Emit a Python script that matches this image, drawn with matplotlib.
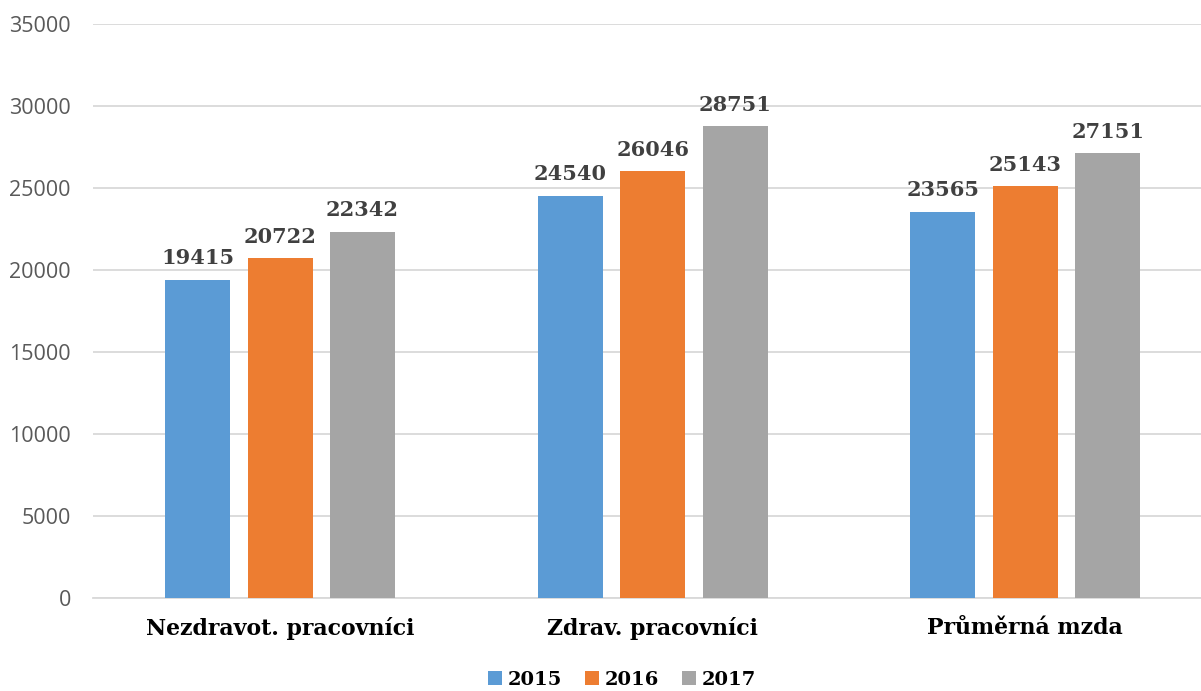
import matplotlib
matplotlib.use("Agg")
import matplotlib.pyplot as plt
import numpy as np

categories = ["Nezdravot. pracovníci", "Zdrav. pracovníci", "Průměrná mzda"]
years = ["2015", "2016", "2017"]
v2015 = [19415, 24540, 23565]
v2016 = [20722, 26046, 25143]
v2017 = [22342, 28751, 27151]
colors = ["#5B9BD5", "#ED7D31", "#A5A5A5"]

fig = plt.figure(figsize=(12.01, 6.91), dpi=100)
W, H = 1201, 691
ax = fig.add_axes([93 / W, 1 - 598 / H, (1201 - 93) / W, (598 - 24) / H])

x = np.arange(len(categories))
bw = 0.1745
off = 0.2215
serif = ["DejaVu Serif"]
for i, (vals, yr, c) in enumerate(zip([v2015, v2016, v2017], years, colors)):
    bars = ax.bar(x + (i - 1) * off, vals, width=bw, color=c, label=yr, zorder=3)
    for b, v in zip(bars, vals):
        ax.annotate(f"{v}", (b.get_x() + b.get_width() / 2, v), xytext=(0, 8),
                    textcoords="offset points", ha="center", va="bottom",
                    fontsize=15, fontweight="bold", family=serif, color="#404040")

ax.set_xlim(-0.502, 2.472)
ax.set_ylim(0, 35000)
ax.set_yticks(np.arange(0, 35001, 5000))
ax.yaxis.grid(True, color="#D9D9D9", linewidth=1.3, zorder=0)
ax.set_axisbelow(True)
for s in ["top", "right", "left"]:
    ax.spines[s].set_visible(False)
ax.spines["bottom"].set_color("#D9D9D9")
ax.spines["bottom"].set_linewidth(1.3)
ax.tick_params(axis="both", length=0)
ax.tick_params(axis="y", pad=16, labelsize=15.5, labelcolor="#595959")
for t in ax.get_yticklabels():
    t.set_family(["Open Sans", "DejaVu Sans"])
ax.set_xticks(x)
ax.set_xticklabels(categories, fontsize=15.8, fontweight="bold", family=serif, color="black")
ax.tick_params(axis="x", pad=14)

leg = fig.legend(loc="center", bbox_to_anchor=(622 / W, 1 - 680 / H), ncol=3, frameon=False,
                 prop={"family": serif, "weight": "bold", "size": 14},
                 handlelength=0.7, handleheight=0.7, handletextpad=0.3, columnspacing=1.2)

fig.savefig("out.png", dpi=100)
